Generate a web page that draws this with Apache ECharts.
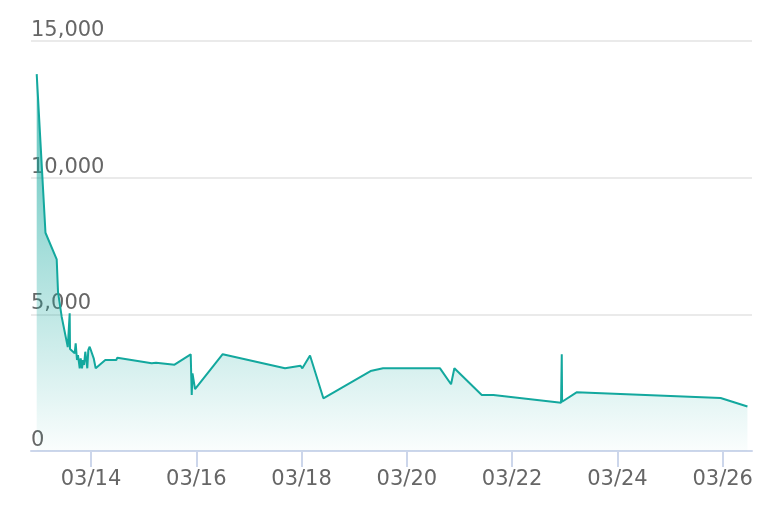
<!DOCTYPE html>
<html>
<head>
<meta charset="utf-8">
<script src="https://cdn.jsdelivr.net/npm/echarts@6/dist/echarts.min.js"></script>
<style>
html,body{margin:0;padding:0;background:#fff;}
#chart{width:780px;height:514px;}
</style>
</head>
<body>
<div id="chart"></div>
<script>
// Timestamps (March, MM/DD HH:mm) and values
var times = ['03/12 23:15','03/13 03:15','03/13 08:22','03/13 08:58','03/13 10:38','03/13 13:25','03/13 14:17','03/13 14:26','03/13 16:34','03/13 17:01','03/13 17:37','03/13 18:04','03/13 18:51','03/13 19:18','03/13 19:54','03/13 20:21','03/13 20:49','03/13 21:24','03/13 22:19','03/13 22:46','03/13 23:24','03/14 01:14','03/14 02:08','03/14 06:31','03/14 11:32','03/14 12:00','03/15 03:40','03/15 04:24','03/15 05:38','03/15 14:04','03/15 14:45','03/15 21:27','03/15 21:55','03/15 22:16','03/15 23:25','03/16 12:02','03/17 16:26','03/17 23:31','03/18 00:20','03/18 03:50','03/18 09:55','03/19 07:25','03/19 13:07','03/20 15:06','03/20 20:07','03/20 21:38','03/21 10:07','03/21 15:25','03/22 22:16','03/22 22:35','03/22 22:44','03/23 05:20','03/25 22:59','03/26 11:13'];
var values = [13790,7985,7012,5816,4913,3800,5037,3731,3574,3940,3329,3512,3025,3391,3025,3329,3146,3632,3025,3695,3815,3391,3025,3329,3329,3413,3208,3157,3230,3157,3230,3537,2048,2842,2268,3541,3025,3120,3025,3493,1928,2926,3025,3025,2440,3025,2048,2048,1767,3537,1803,2147,1939,1628];
var yTicks = [0, 5000, 10000, 15000];
var xTickDays = ['03/14','03/16','03/18','03/20','03/22','03/24','03/26'];

// hours relative to 03/14 00:00
function toHours(s) {
  var p = s.split(' ');
  var d = p[0].split('/');
  var t = p[1].split(':');
  return (parseInt(d[1], 10) - 14) * 24 + parseInt(t[0], 10) + parseInt(t[1], 10) / 60;
}
function hoursToLabel(h) {
  var day = 14 + Math.round(h / 24);
  return '03/' + (day < 10 ? '0' + day : day);
}
var seriesData = times.map(function (t, i) { return [toHours(t), values[i]]; });

var FONT = 'DejaVu Sans';
var chart = echarts.init(document.getElementById('chart'), null, {renderer: 'canvas'});
chart.setOption({
  animation: false,
  backgroundColor: '#ffffff',
  grid: [
    {left: 31, right: 28, top: 41, bottom: 63},
    {left: 91, right: 57.3, top: 41, bottom: 63}
  ],
  xAxis: [
    {
      type: 'value', gridIndex: 0, min: -27.35, max: 301.3,
      axisLine: {show: true, lineStyle: {color: '#ccd6eb', width: 2}},
      axisTick: {show: false}, axisLabel: {show: false}, splitLine: {show: false}
    },
    {
      type: 'value', gridIndex: 1, min: 0, max: 288, interval: 48,
      axisLine: {show: false},
      axisTick: {show: true, length: 16, lineStyle: {color: '#ccd6eb', width: 2}},
      splitLine: {show: false},
      axisLabel: {
        show: true, margin: 18, color: '#666666', fontFamily: FONT, fontSize: 21,
        formatter: function (v) {
          var lab = hoursToLabel(v);
          return xTickDays.indexOf(lab) >= 0 ? lab : '';
        }
      }
    }
  ],
  yAxis: [
    {
      type: 'value', gridIndex: 0, min: yTicks[0], max: yTicks[yTicks.length - 1], interval: 5000,
      axisLine: {show: false}, axisTick: {show: false},
      splitLine: {show: true, lineStyle: {color: '#e3e3e3', width: 1.5}},
      axisLabel: {
        inside: true, margin: 0, verticalAlign: 'bottom', padding: [0, 0, 0, 0],
        color: '#666666', fontFamily: FONT, fontSize: 21,
        formatter: function (v) { return v.toLocaleString('en-US'); }
      }
    },
    {
      type: 'value', gridIndex: 1, min: 0, max: 1, show: false
    }
  ],
  series: [{
    type: 'line',
    xAxisIndex: 0, yAxisIndex: 0,
    data: seriesData,
    showSymbol: false,
    symbol: 'none',
    smooth: false,
    lineStyle: {color: '#13a89e', width: 2},
    itemStyle: {color: '#13a89e'},
    areaStyle: {
      opacity: 1,
      color: new echarts.graphic.LinearGradient(0, 0, 0, 1, [
        {offset: 0, color: 'rgba(19,168,158,0.7)'},
        {offset: 1, color: 'rgba(19,168,158,0.02)'}
      ])
    }
  }]
});
</script>
</body>
</html>
